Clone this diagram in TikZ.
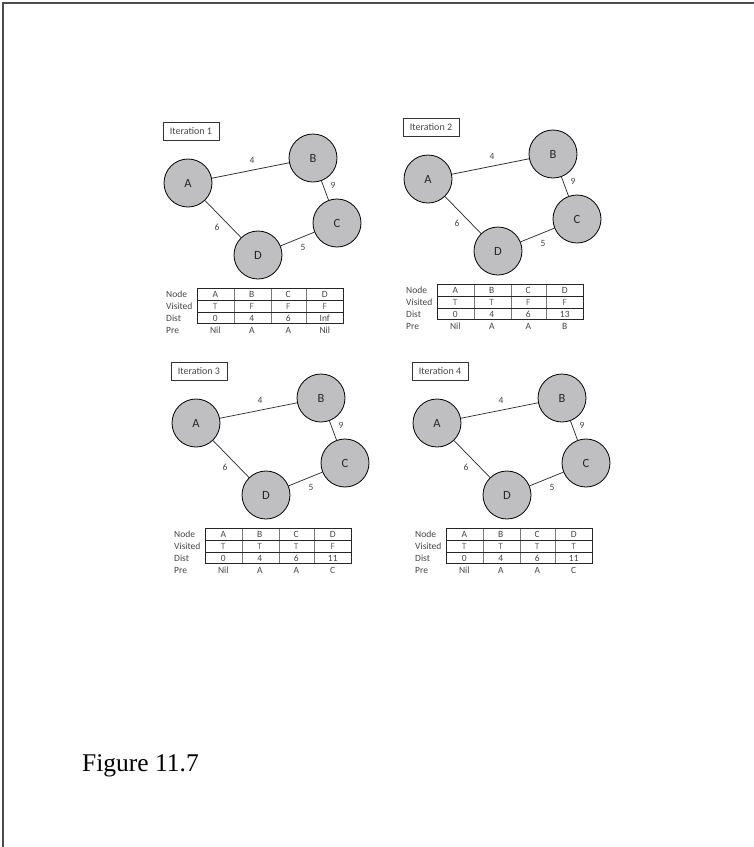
\documentclass[tikz,border=0pt]{standalone}
\usepackage{fontspec}
\newfontfamily\diagfont{Carlito}
\newfontfamily\capfont{Liberation Serif}
\definecolor{vfill}{RGB}{191,191,193}
\definecolor{txtgray}{RGB}{70,70,70}
\definecolor{ltgray}{RGB}{110,110,110}
\definecolor{gridgray}{RGB}{120,120,120}
\tikzset{
  vert/.style={circle, draw=black, line width=0.8pt, fill=vfill, minimum size=48pt, inner sep=0pt, font=\diagfont\fontsize{12.5}{13}\selectfont, text=black!85},
  edgeline/.style={line width=0.7pt, black!85},
  wlab/.style={font=\diagfont\fontsize{9.5}{10}\selectfont, text=txtgray, inner sep=0pt},
  iterbox/.style={draw=black!80, line width=0.6pt, minimum width=56pt, minimum height=18pt, inner sep=0pt, font=\diagfont\fontsize{10}{11}\selectfont, text=txtgray},
  rowlab/.style={font=\diagfont\fontsize{9.5}{10}\selectfont, text=txtgray, anchor=west, inner sep=0pt},
  cell/.style={font=\diagfont\fontsize{9.5}{10}\selectfont, text=txtgray, inner sep=0pt},
  cellv/.style={font=\diagfont\fontsize{9.5}{10}\selectfont, text=ltgray, inner sep=0pt},
  hline/.style={line width=0.7pt, black!85},
  vline/.style={line width=0.7pt, gridgray},
  framel/.style={line width=1.3pt, black!70}
}
\newcommand\graphpanel[7]{%
  % #1 shift, #2 suffix, #3 iteration no, #4 visited, #5 dist, #6 pre
  \begin{scope}[shift={#1}]
    \node[iterbox] (it#2) at (191,131.5) {Iteration #3};
    \node[vert] (A#2) at (188,183) {A};
    \node[vert] (B#2) at (313,158) {B};
    \node[vert] (C#2) at (337,223) {C};
    \node[vert] (D#2) at (258,255) {D};
    \draw[edgeline] (A#2) -- (B#2) node[wlab] (w4#2) at (252,160) {4};
    \draw[edgeline] (B#2) -- (C#2) node[wlab] (w9#2) at (333,185) {9};
    \draw[edgeline] (A#2) -- (D#2) node[wlab] (w6#2) at (217,227) {6};
    \draw[edgeline] (D#2) -- (C#2) node[wlab] (w5#2) at (303,247) {5};
    % table
    \node[rowlab] (rn#2) at (166,294.5) {Node};
    \node[rowlab] (rv#2) at (166,306.5) {Visited};
    \node[rowlab] (rd#2) at (166,318) {Dist};
    \node[rowlab] (rp#2) at (166,330) {Pre};
    \foreach \x in {234,271,306} \draw[vline] (\x,288) -- (\x,323.5);
    \draw[hline] (197,288) rectangle (343,323.5);
    \draw[hline] (197,300) -- (343,300);
    \draw[hline] (197,312) -- (343,312);
    \foreach \t [count=\i] in {A,B,C,D} \node[cell] (n#2\i) at ({197+36.5*(\i-0.5)},294.5) {\t};
    \foreach \t [count=\i] in {#4} \node[cellv] (v#2\i) at ({197+36.5*(\i-0.5)},306.5) {\t};
    \foreach \t [count=\i] in {#5} \node[cell] (d#2\i) at ({197+36.5*(\i-0.5)},318) {\t};
    \foreach \t [count=\i] in {#6} \node[cell] (p#2\i) at ({197+36.5*(\i-0.5)},330) {\t};
  \end{scope}}
\begin{document}
\begin{tikzpicture}[x=1pt,y=-1pt]
  \useasboundingbox (0,0) rectangle (754,847);
  \fill[white] (0,0) rectangle (754,847);
  \draw[framel] (3,847) -- (3,3) -- (754,3);
  \graphpanel{(0,0)}{a}{1}{T,F,F,F}{0,4,6,Inf}{Nil,A,A,Nil}{}
  \graphpanel{(240,-4)}{b}{2}{T,T,F,F}{0,4,6,13}{Nil,A,A,B}{}
  \graphpanel{(8,240)}{c}{3}{T,T,T,F}{0,4,6,11}{Nil,A,A,C}{}
  \graphpanel{(249,240)}{d}{4}{T,T,T,T}{0,4,6,11}{Nil,A,A,C}{}
  \node[font=\capfont\fontsize{25.5}{29}\selectfont, anchor=west, inner sep=0pt] (fig) at (82,766) {Figure 11.7};
\end{tikzpicture}
\end{document}
